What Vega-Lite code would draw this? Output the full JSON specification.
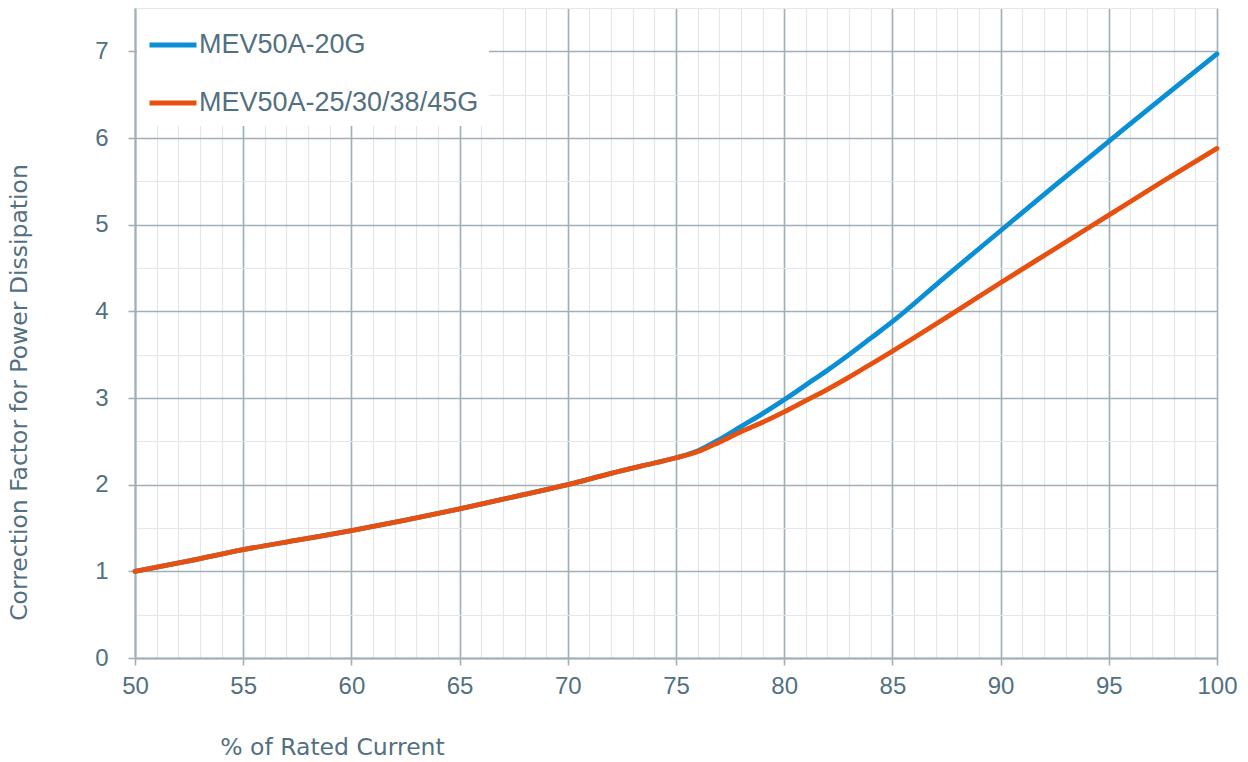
{
  "$schema": "https://vega.github.io/schema/vega-lite/v6.json",
  "autosize": {"type": "none"},
  "padding": {"left": 135, "top": 8, "right": 31, "bottom": 104},
  "width": 1082,
  "height": 650,
  "background": "white",
  "config": {"view": {"stroke": null}},
  "data": {
    "values": [
      {"series": "MEV50A-20G", "x": 50, "y": 1.0},
      {"series": "MEV50A-20G", "x": 52.5, "y": 1.12},
      {"series": "MEV50A-20G", "x": 55, "y": 1.25},
      {"series": "MEV50A-20G", "x": 57.5, "y": 1.36},
      {"series": "MEV50A-20G", "x": 60, "y": 1.47},
      {"series": "MEV50A-20G", "x": 62.5, "y": 1.59},
      {"series": "MEV50A-20G", "x": 65, "y": 1.72},
      {"series": "MEV50A-20G", "x": 67.5, "y": 1.86},
      {"series": "MEV50A-20G", "x": 70, "y": 2.0},
      {"series": "MEV50A-20G", "x": 72, "y": 2.13},
      {"series": "MEV50A-20G", "x": 74, "y": 2.25},
      {"series": "MEV50A-20G", "x": 75, "y": 2.31},
      {"series": "MEV50A-20G", "x": 76, "y": 2.39},
      {"series": "MEV50A-20G", "x": 77, "y": 2.52},
      {"series": "MEV50A-20G", "x": 78, "y": 2.67},
      {"series": "MEV50A-20G", "x": 79, "y": 2.82},
      {"series": "MEV50A-20G", "x": 80, "y": 2.98},
      {"series": "MEV50A-20G", "x": 81, "y": 3.15},
      {"series": "MEV50A-20G", "x": 82, "y": 3.32},
      {"series": "MEV50A-20G", "x": 83, "y": 3.5},
      {"series": "MEV50A-20G", "x": 84, "y": 3.69},
      {"series": "MEV50A-20G", "x": 85, "y": 3.88},
      {"series": "MEV50A-20G", "x": 87.5, "y": 4.41},
      {"series": "MEV50A-20G", "x": 90, "y": 4.93},
      {"series": "MEV50A-20G", "x": 92.5, "y": 5.45},
      {"series": "MEV50A-20G", "x": 95, "y": 5.96},
      {"series": "MEV50A-20G", "x": 97.5, "y": 6.47},
      {"series": "MEV50A-20G", "x": 100, "y": 6.97},
      {"series": "MEV50A-25/30/38/45G", "x": 50, "y": 1.0},
      {"series": "MEV50A-25/30/38/45G", "x": 52.5, "y": 1.12},
      {"series": "MEV50A-25/30/38/45G", "x": 55, "y": 1.25},
      {"series": "MEV50A-25/30/38/45G", "x": 57.5, "y": 1.36},
      {"series": "MEV50A-25/30/38/45G", "x": 60, "y": 1.47},
      {"series": "MEV50A-25/30/38/45G", "x": 62.5, "y": 1.59},
      {"series": "MEV50A-25/30/38/45G", "x": 65, "y": 1.72},
      {"series": "MEV50A-25/30/38/45G", "x": 67.5, "y": 1.86},
      {"series": "MEV50A-25/30/38/45G", "x": 70, "y": 2.0},
      {"series": "MEV50A-25/30/38/45G", "x": 72, "y": 2.13},
      {"series": "MEV50A-25/30/38/45G", "x": 74, "y": 2.25},
      {"series": "MEV50A-25/30/38/45G", "x": 75, "y": 2.31},
      {"series": "MEV50A-25/30/38/45G", "x": 76, "y": 2.38},
      {"series": "MEV50A-25/30/38/45G", "x": 77, "y": 2.49},
      {"series": "MEV50A-25/30/38/45G", "x": 78, "y": 2.61},
      {"series": "MEV50A-25/30/38/45G", "x": 79, "y": 2.72},
      {"series": "MEV50A-25/30/38/45G", "x": 80, "y": 2.84},
      {"series": "MEV50A-25/30/38/45G", "x": 81, "y": 2.97},
      {"series": "MEV50A-25/30/38/45G", "x": 82, "y": 3.1},
      {"series": "MEV50A-25/30/38/45G", "x": 83, "y": 3.24},
      {"series": "MEV50A-25/30/38/45G", "x": 84, "y": 3.39},
      {"series": "MEV50A-25/30/38/45G", "x": 85, "y": 3.54},
      {"series": "MEV50A-25/30/38/45G", "x": 87.5, "y": 3.93},
      {"series": "MEV50A-25/30/38/45G", "x": 90, "y": 4.33},
      {"series": "MEV50A-25/30/38/45G", "x": 92.5, "y": 4.72},
      {"series": "MEV50A-25/30/38/45G", "x": 95, "y": 5.11},
      {"series": "MEV50A-25/30/38/45G", "x": 97.5, "y": 5.5},
      {"series": "MEV50A-25/30/38/45G", "x": 100, "y": 5.88}
    ]
  },
  "layer": [
    {
      "mark": {"type": "line", "opacity": 0},
      "encoding": {
        "x": {
          "field": "x", "type": "quantitative",
          "scale": {"domain": [50, 100], "nice": false, "zero": false},
          "axis": {
            "orient": "bottom", "title": null, "labels": false, "ticks": false, "domain": false,
            "grid": true, "gridColor": "#e3e7e9", "gridWidth": 1.2,
            "values": [50,51,52,53,54,55,56,57,58,59,60,61,62,63,64,65,66,67,68,69,70,71,72,73,74,75,76,77,78,79,80,81,82,83,84,85,86,87,88,89,90,91,92,93,94,95,96,97,98,99,100]
          }
        },
        "y": {
          "field": "y", "type": "quantitative",
          "scale": {"domain": [0, 7.5], "nice": false, "zero": false},
          "axis": {
            "orient": "left", "title": null, "labels": false, "ticks": false, "domain": false,
            "grid": true, "gridColor": "#e3e7e9", "gridWidth": 1.2,
            "values": [0.5,1.5,2.5,3.5,4.5,5.5,6.5,7.5]
          }
        },
        "detail": {"field": "series"}
      }
    },
    {
      "mark": {"type": "line", "strokeWidth": 4.8, "interpolate": "monotone", "strokeCap": "round"},
      "encoding": {
        "x": {
          "field": "x", "type": "quantitative",
          "scale": {"domain": [50, 100], "nice": false, "zero": false},
          "axis": {
            "orient": "bottom",
            "title": "% of Rated Current",
            "values": [50,55,60,65,70,75,80,85,90,95,100],
            "grid": true, "gridColor": "#9fb0b9", "gridWidth": 1.6,
            "domainColor": "#9fb0b9", "domainWidth": 2,
            "tickColor": "#9fb0b9", "tickWidth": 1.6, "tickSize": 7,
            "labelFont": "Liberation Sans", "labelFontSize": 24, "labelColor": "#52707f", "labelPadding": 9,
            "labelFlush": false,
            "titleFont": "DejaVu Sans", "titleFontSize": 23.5, "titleFontWeight": "normal", "titleColor": "#52707f",
            "titleX": 197, "titleY": 89, "titleAlign": "center", "titleBaseline": "middle"
          }
        },
        "y": {
          "field": "y", "type": "quantitative",
          "scale": {"domain": [0, 7.5], "nice": false, "zero": false},
          "axis": {
            "orient": "left",
            "title": "Correction Factor for Power Dissipation",
            "values": [0,1,2,3,4,5,6,7],
            "grid": true, "gridColor": "#9fb0b9", "gridWidth": 1.6,
            "domainColor": "#9fb0b9", "domainWidth": 2,
            "tickColor": "#9fb0b9", "tickWidth": 1.6, "tickSize": 7,
            "labelFont": "Liberation Sans", "labelFontSize": 24, "labelColor": "#52707f", "labelPadding": 20,
            "labelFlush": false,
            "titleFont": "DejaVu Sans", "titleFontSize": 23.5, "titleFontWeight": "normal", "titleColor": "#52707f",
            "titleX": -116, "titleY": 384, "titleAngle": -90, "titleAlign": "center", "titleBaseline": "middle"
          }
        },
        "color": {
          "field": "series", "type": "nominal",
          "scale": {"domain": ["MEV50A-20G", "MEV50A-25/30/38/45G"], "range": ["#0a8fd7", "#e8500f"]},
          "legend": {
            "title": null, "orient": "none", "legendX": 2, "legendY": 1,
            "fillColor": "white", "padding": 10,
            "symbolType": "stroke", "symbolSize": 2209, "symbolStrokeWidth": 4.8,
            "labelFont": "Liberation Sans", "labelFontSize": 27, "labelColor": "#52707f", "labelOffset": 0,
            "rowPadding": 19, "labelLimit": 400
          }
        }
      }
    }
  ],
  "resolve": {"axis": {"x": "independent", "y": "independent"}}
}
